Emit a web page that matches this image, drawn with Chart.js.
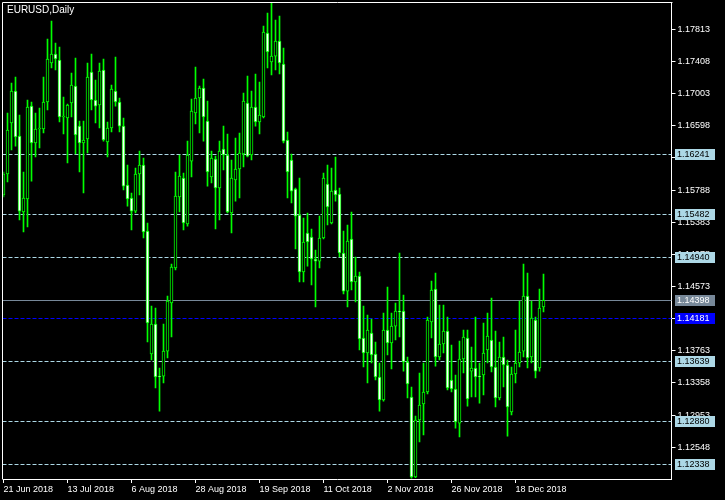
<!DOCTYPE html>
<html>
<head>
<meta charset="utf-8">
<script src="https://cdn.jsdelivr.net/npm/chart.js@4.4.1/dist/chart.umd.min.js"></script>
<style>
    html, body { margin: 0; padding: 0; background: #000; }
    canvas { display: block; }
</style>
</head>
<body>
<canvas id="chart" width="725" height="500"></canvas>
<script>
var chartTitle = 'EURUSD,Daily';

// daily candles, 21 Jun 2018 .. 27 Dec 2018
var opens = [
    1.15725, 1.15990, 1.16632, 1.17035, 1.16468, 1.15511, 1.15675, 1.16846, 1.16380, 1.16557,
    1.16557, 1.16897, 1.17388, 1.17502, 1.17426, 1.16708, 1.16695, 1.16884, 1.17098, 1.16594,
    1.16380, 1.16431, 1.17275, 1.16922, 1.16859, 1.17300, 1.16393, 1.16569, 1.17035, 1.16897,
    1.16594, 1.15851, 1.15687, 1.15523, 1.15990, 1.16103, 1.15271, 1.13722, 1.14100, 1.13444,
    1.13444, 1.13759, 1.14364, 1.14805, 1.15700, 1.15939, 1.15360, 1.16153, 1.16758, 1.16947,
    1.17073, 1.16657, 1.15952, 1.16179, 1.15813, 1.16305, 1.16229, 1.15498, 1.15914, 1.16053,
    1.16242, 1.16884, 1.16229, 1.16834, 1.16645, 1.16708, 1.17766, 1.17401, 1.17476, 1.17665,
    1.17376, 1.16418, 1.16166, 1.15801, 1.15473, 1.14755, 1.15246, 1.15196, 1.14919, 1.14893,
    1.15183, 1.15864, 1.15372, 1.15788, 1.15738, 1.14994, 1.14515, 1.15171, 1.14629, 1.14704,
    1.13923, 1.13734, 1.13986, 1.13722, 1.13432, 1.13142, 1.14024, 1.13860, 1.14074, 1.14263,
    1.14263, 1.13621, 1.13180, 1.12172, 1.12890, 1.13092, 1.13243, 1.14125, 1.14541, 1.13684,
    1.13848, 1.14011, 1.13394, 1.13281, 1.12852, 1.13659, 1.13923, 1.13507, 1.13545, 1.13444,
    1.13457, 1.13772, 1.13898, 1.13558, 1.13167, 1.13684, 1.13583, 1.12991, 1.13470, 1.13608,
    1.13759, 1.14452, 1.13684, 1.14150, 1.13545, 1.14314
];
var highs = [
    1.16015, 1.16758, 1.17136, 1.17212, 1.16733, 1.16015, 1.16922, 1.16897, 1.16758, 1.16821,
    1.17212, 1.17691, 1.17917, 1.17640, 1.17590, 1.16960, 1.16872, 1.17262, 1.17451, 1.16657,
    1.16657, 1.17388, 1.17502, 1.17174, 1.17388, 1.17439, 1.16645, 1.17111, 1.17464, 1.16947,
    1.16695, 1.16103, 1.15750, 1.16065, 1.16279, 1.16191, 1.15372, 1.14326, 1.14301, 1.13545,
    1.14100, 1.14452, 1.14856, 1.16015, 1.16229, 1.16002, 1.16405, 1.16935, 1.17338, 1.17098,
    1.17187, 1.16909, 1.16279, 1.16216, 1.16405, 1.16594, 1.16494, 1.16166, 1.16443, 1.16506,
    1.17010, 1.17224, 1.17035, 1.17250, 1.17149, 1.17854, 1.18018, 1.18144, 1.17930, 1.17980,
    1.17577, 1.16519, 1.16242, 1.15813, 1.15939, 1.15435, 1.15498, 1.15297, 1.15032, 1.15460,
    1.16002, 1.16103, 1.16065, 1.16204, 1.15813, 1.15271, 1.15347, 1.15511, 1.14944, 1.14755,
    1.14326, 1.14213, 1.14163, 1.13873, 1.13608, 1.14238, 1.14566, 1.14238, 1.14364, 1.14994,
    1.14465, 1.13684, 1.13306, 1.12940, 1.13482, 1.13608, 1.14188, 1.14641, 1.14742, 1.14339,
    1.14339, 1.14188, 1.13835, 1.13457, 1.13885, 1.14024, 1.14024, 1.13810, 1.14188, 1.13608,
    1.14112, 1.14238, 1.14427, 1.14011, 1.13873, 1.13936, 1.13646, 1.13558, 1.14024, 1.14389,
    1.14856, 1.14742, 1.14389, 1.14188, 1.14541, 1.14730
];
var lows = [
    1.15700, 1.15889, 1.16292, 1.16342, 1.15410, 1.15259, 1.15322, 1.15901, 1.16204, 1.16317,
    1.16506, 1.16796, 1.17325, 1.17300, 1.16645, 1.16494, 1.16128, 1.16708, 1.16242, 1.16015,
    1.15750, 1.16254, 1.16796, 1.16632, 1.16569, 1.16405, 1.16204, 1.16519, 1.16846, 1.16519,
    1.15788, 1.15586, 1.15284, 1.15498, 1.15725, 1.15183, 1.13873, 1.13646, 1.13293, 1.13003,
    1.13356, 1.13671, 1.13936, 1.14780, 1.15511, 1.15284, 1.15334, 1.15952, 1.16620, 1.16506,
    1.16405, 1.15838, 1.15876, 1.15297, 1.15410, 1.16040, 1.15498, 1.15246, 1.15649, 1.15687,
    1.16078, 1.16204, 1.16166, 1.16594, 1.16494, 1.16695, 1.17325, 1.17237, 1.17300, 1.17250,
    1.16380, 1.15687, 1.15624, 1.15045, 1.14629, 1.14629, 1.14830, 1.14591, 1.14314, 1.14805,
    1.15171, 1.15347, 1.15360, 1.15649, 1.14944, 1.14478, 1.14314, 1.14528, 1.14377, 1.13772,
    1.13558, 1.13356, 1.13608, 1.13394, 1.13003, 1.13129, 1.13709, 1.13533, 1.13898, 1.13936,
    1.13507, 1.13167, 1.12159, 1.12165, 1.12613, 1.12701, 1.13218, 1.13923, 1.13570, 1.13646,
    1.13734, 1.13268, 1.13243, 1.12789, 1.12676, 1.13482, 1.13066, 1.13180, 1.13180, 1.13104,
    1.13205, 1.13608, 1.13495, 1.13054, 1.13142, 1.13306, 1.12688, 1.12953, 1.13356, 1.13558,
    1.13684, 1.13545, 1.13608, 1.13419, 1.13507, 1.14251
];
var closes = [
    1.15990, 1.16544, 1.17035, 1.16456, 1.15523, 1.15687, 1.16834, 1.16380, 1.16557, 1.16569,
    1.16897, 1.17439, 1.17502, 1.17439, 1.16708, 1.16720, 1.16859, 1.17111, 1.16481, 1.16380,
    1.16418, 1.17212, 1.16922, 1.16846, 1.17287, 1.16418, 1.16569, 1.17061, 1.16897, 1.16594,
    1.15838, 1.15675, 1.15523, 1.15990, 1.16103, 1.15259, 1.14112, 1.14100, 1.13432, 1.13432,
    1.13759, 1.14389, 1.14818, 1.15712, 1.15964, 1.15372, 1.16229, 1.16783, 1.16947, 1.17073,
    1.16708, 1.16015, 1.16191, 1.15813, 1.16279, 1.16229, 1.15511, 1.15939, 1.16053, 1.16254,
    1.16909, 1.16216, 1.16834, 1.16645, 1.16733, 1.17779, 1.17527, 1.17476, 1.17665, 1.17388,
    1.16405, 1.16015, 1.15775, 1.15460, 1.14755, 1.15133, 1.15133, 1.14919, 1.14893, 1.15183,
    1.15939, 1.15574, 1.15775, 1.15725, 1.14994, 1.14515, 1.15145, 1.14629, 1.14704, 1.13911,
    1.13734, 1.14024, 1.13709, 1.13432, 1.13142, 1.14024, 1.13860, 1.14074, 1.14263, 1.14251,
    1.13621, 1.13344, 1.12172, 1.12890, 1.13079, 1.13243, 1.14150, 1.14528, 1.13684, 1.13848,
    1.14011, 1.13293, 1.13281, 1.12865, 1.13659, 1.13936, 1.13155, 1.13545, 1.13432, 1.13432,
    1.13734, 1.13948, 1.13558, 1.13167, 1.13684, 1.13583, 1.13054, 1.13470, 1.13608, 1.13747,
    1.14452, 1.13671, 1.14175, 1.13507, 1.14301, 1.14398
];

var dateTicks = ['21 Jun 2018', '13 Jul 2018', '6 Aug 2018', '28 Aug 2018', '19 Sep 2018',
    '11 Oct 2018', '2 Nov 2018', '26 Nov 2018', '18 Dec 2018'];
var priceTicks = [1.17813, 1.17408, 1.17003, 1.16598, 1.16193, 1.15788, 1.15383,
    1.14978, 1.14573, 1.14168, 1.13763, 1.13358, 1.12953, 1.12548];
var levelPrices = [1.16241, 1.15482, 1.14940, 1.13639, 1.12880, 1.12338];
var bidPrice = 1.14398;
var bluePrice = 1.14181;

// one slot per trading day, plus empty room on the right (chart shift)
var monthNames = ['Jan', 'Feb', 'Mar', 'Apr', 'May', 'Jun', 'Jul', 'Aug', 'Sep', 'Oct', 'Nov', 'Dec'];
var slots = [];
var day = new Date(Date.UTC(2018, 5, 21));
while (slots.length < closes.length) {
    var wd = day.getUTCDay();
    if (wd != 0 && wd != 6)
        slots.push(day.getUTCDate() + ' ' + monthNames[day.getUTCMonth()] + ' ' + day.getUTCFullYear());
    day.setUTCDate(day.getUTCDate() + 1);
}
var emptySlots = 32;
for (var k = 0; k < emptySlots; k++) slots.push('');

var FONT = 'Liberation Sans';
var LIME = '#00ff00';
var LEVEL_COLOR = '#add8e6';

var mtPlugin = {
    id: 'mt4look',
    beforeDraw: function (chart) {
        var c = chart.ctx;
        c.save();
        c.fillStyle = '#000';
        c.fillRect(0, 0, chart.width, chart.height);
        c.restore();
    },
    beforeDatasetsDraw: function (chart) {
        var c = chart.ctx, a = chart.chartArea, ys = chart.scales.y;
        c.save();
        c.lineWidth = 1;
        function hline(v, color, dash) {
            var y = Math.round(ys.getPixelForValue(v)) + 0.5;
            c.strokeStyle = color;
            c.setLineDash(dash);
            c.beginPath();
            c.moveTo(a.left - 1, y);
            c.lineTo(a.right, y);
            c.stroke();
        }
        levelPrices.forEach(function (v) { hline(v, LEVEL_COLOR, [4, 2]); });
        hline(bidPrice, '#778899', []);
        hline(bluePrice, '#0000ff', [4, 2]);
        c.restore();
    },
    afterDraw: function (chart) {
        var c = chart.ctx, a = chart.chartArea, ys = chart.scales.y;
        c.save();
        // frame top and left
        c.strokeStyle = '#fff';
        c.lineWidth = 1;
        c.beginPath();
        c.moveTo(2.5, Math.round(a.bottom) + 0.5);
        c.lineTo(2.5, 2.5);
        c.lineTo(Math.round(a.right) + 0.5, 2.5);
        c.stroke();

        c.font = '10px "' + FONT + '"';
        c.fillStyle = '#fff';
        c.textBaseline = 'middle';
        c.fillText(chartTitle, 7, 10);

        // price labels on the axis
        c.font = '9px "' + FONT + '"';
        function box(v, bg, fg) {
            var y = Math.round(ys.getPixelForValue(v));
            c.fillStyle = bg;
            c.fillRect(675, y - 5, 40, 11);
            c.fillStyle = fg;
            c.textBaseline = 'middle';
            c.fillText(v.toFixed(5), 677, y + 0.5);
        }
        levelPrices.forEach(function (v) { box(v, LEVEL_COLOR, '#000'); });
        box(bidPrice, '#778899', '#fff');
        box(bluePrice, '#0000ff', '#fff');
        c.restore();
    }
};

var ctx = document.getElementById('chart').getContext('2d');
new Chart(ctx, {
    type: 'bar',
    data: {
        labels: slots,
        datasets: [
            {
                label: 'wicks',
                data: lows.map(function (l, i) { return [l, highs[i]]; }),
                backgroundColor: LIME,
                borderWidth: 0,
                barThickness: 1,
                grouped: false,
                order: 2
            },
            {
                label: 'bodies',
                data: opens.map(function (o, i) { return [o, closes[i]]; }),
                backgroundColor: closes.map(function (c, i) { return c < opens[i] ? '#ffffff' : '#000000'; }),
                borderColor: LIME,
                borderWidth: 1,
                borderSkipped: false,
                barThickness: 3,
                minBarLength: 1,
                grouped: false,
                order: 1
            }
        ]
    },
    plugins: [mtPlugin],
    options: {
        responsive: false,
        animation: false,
        devicePixelRatio: 1,
        layout: { padding: { left: 3.5, top: 2, right: 0, bottom: 0 } },
        plugins: {
            legend: { display: false },
            tooltip: { enabled: false }
        },
        scales: {
            x: {
                offset: false,
                afterBuildTicks: function (s) {
                    s.ticks = dateTicks.map(function (t) { return { value: slots.indexOf(t) }; });
                },
                afterFit: function (s) {
                    s.height = 21;
                    s.paddingLeft = 0;
                    s.paddingRight = 0;
                },
                ticks: {
                    color: '#fff',
                    font: { family: FONT, size: 9 },
                    align: 'start',
                    autoSkip: false,
                    maxRotation: 0,
                    padding: 1
                },
                grid: { drawOnChartArea: false, drawTicks: true, tickLength: 4, color: '#fff', offset: false },
                border: { display: true, color: '#fff', width: 1 }
            },
            y: {
                position: 'right',
                min: 1.12147,
                max: 1.18157,
                afterBuildTicks: function (s) {
                    s.ticks = priceTicks.map(function (v) { return { value: v }; });
                },
                afterFit: function (s) {
                    s.width = 53.5;
                    // MT4 lets the scale run to the frame, no label overhang room
                    s.paddingTop = 0;
                    s.paddingBottom = 0;
                },
                ticks: {
                    color: '#fff',
                    font: { family: FONT, size: 9 },
                    padding: 2,
                    callback: function (v) { return v.toFixed(5); }
                },
                grid: { drawOnChartArea: false, drawTicks: true, tickLength: 4, color: '#fff' },
                border: { display: true, color: '#fff', width: 1 }
            }
        }
    }
});
</script>
</body>
</html>
